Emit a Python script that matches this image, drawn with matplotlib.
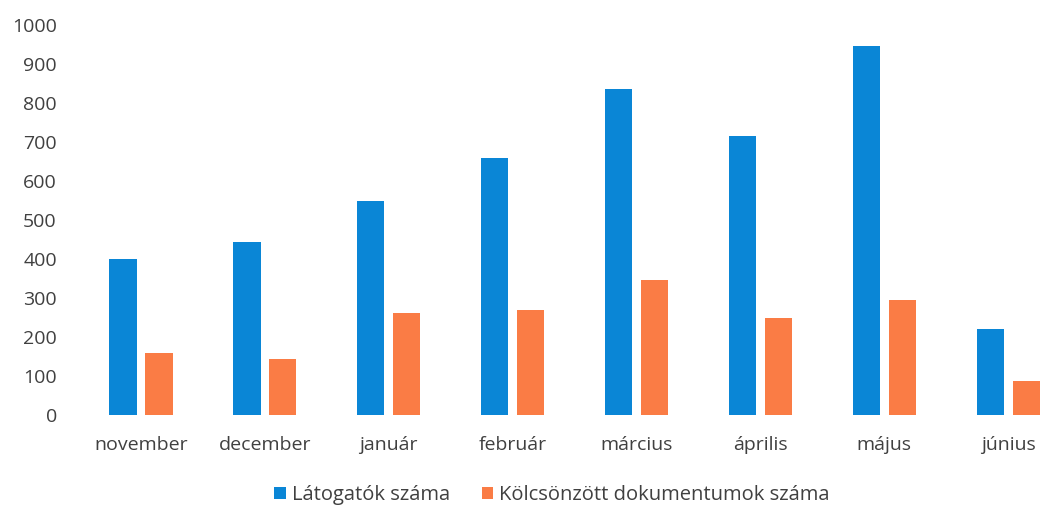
import matplotlib.pyplot as plt
import numpy as np

# Data
months = ['november', 'december', 'január', 'február', 'március',
          'április', 'május', 'június']
visitors = [401, 444, 550, 660, 836, 715, 947, 221]
loans = [158, 143, 261, 268, 346, 248, 294, 88]

BLUE = '#0A86D6'
ORANGE = '#FA7C45'
TEXT = '#404040'

plt.rcParams['font.family'] = ['Open Sans', 'DejaVu Sans']

fig = plt.figure(figsize=(10.4, 5.08), dpi=100)
ax = fig.add_axes([79 / 1040, 93 / 508, 961 / 1040, 390 / 508])

x = np.arange(len(months))
w = 0.22
ax.bar(x - 0.145, visitors, w, color=BLUE, label='Látogatók száma')
ax.bar(x + 0.145, loans, w, color=ORANGE, label='Kölcsönzött dokumentumok száma')

ax.set_ylim(0, 1000)
ax.set_yticks(range(0, 1001, 100))
ax.set_xlim(-0.5, -0.5 + 961 / 123.9)
ax.set_xticks(x)
ax.set_xticklabels(months)

for s in ax.spines.values():
    s.set_visible(False)
ax.tick_params(axis='both', length=0, labelsize=14, colors=TEXT)
ax.tick_params(axis='y', pad=16)
ax.tick_params(axis='x', pad=15)

fig.legend(loc='center', bbox_to_anchor=(552 / 1040, 1 - 495 / 508), ncol=2,
           frameon=False, fontsize=14.5, handlelength=0.55, handleheight=0.55,
           handletextpad=0.3, columnspacing=1.6, labelcolor=TEXT)

fig.savefig('out.png', dpi=100)
